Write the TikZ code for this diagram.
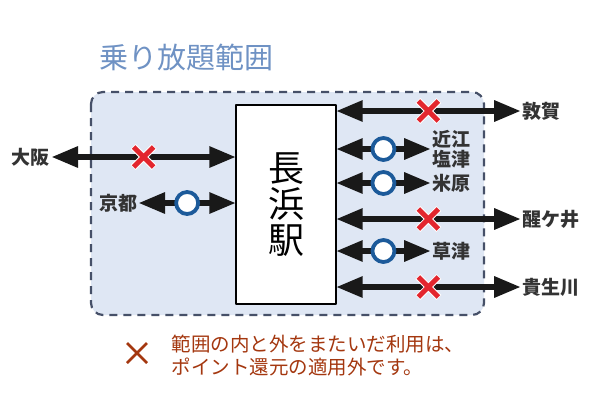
\documentclass[tikz,border=0pt]{standalone}
\usepackage{fontspec}
\setmainfont{Noto Sans CJK JP}
\usepackage{tikz}
\usetikzlibrary{arrows}
\usetikzlibrary{positioning}
\definecolor{hanibg}{RGB}{223,231,244}
\definecolor{haniline}{RGB}{70,80,104}
\definecolor{titleblue}{RGB}{111,146,196}
\definecolor{marublue}{RGB}{28,90,154}
\definecolor{batsured}{RGB}{227,38,46}
\definecolor{notebrown}{RGB}{164,55,15}
\tikzset{
  eki/.style={font=\fontsize{19}{21}\selectfont\bfseries, text=black!80, inner sep=2pt, align=center},
  route/.style={<->, line width=5.2pt, color=black!90},
  maru/.style={circle, draw=marublue, fill=white, line width=3.8pt, minimum size=22pt, inner sep=0pt},
}
% cross mark at a named coordinate
\newcommand{\batsu}[3][batsured]{%
  \draw[white, line width=#3+2pt] ([shift={(-10.5pt,-10.5pt)}]#2) -- ([shift={(10.5pt,10.5pt)}]#2)
    ([shift={(-10.5pt,10.5pt)}]#2) -- ([shift={(10.5pt,-10.5pt)}]#2);
  \draw[#1, line width=#3] ([shift={(-10pt,-10pt)}]#2) -- ([shift={(10pt,10pt)}]#2)
    ([shift={(-10pt,10pt)}]#2) -- ([shift={(10pt,-10pt)}]#2);}

\begin{document}
\begin{tikzpicture}[line cap=butt,line join=round,>=triangle 45,x=1pt,y=-1pt]
            \useasboundingbox (0,0) rectangle (600,400);
            \fill[white] (0,0) rectangle (600,400);
            % area where the ticket is valid
            \draw [line width=2.2pt,color=haniline,fill=hanibg,dash pattern=on 8pt off 6pt,rounded corners=12pt] (91,92) rectangle (484,315);
            \node[text=titleblue, font=\fontsize{29}{31}\selectfont] (title) at (186,57) {乗り放題範囲};

            \node[draw, line width=1.8pt, fill=white, minimum width=100pt, minimum height=199pt,
              font=\fontsize{36}{36}\selectfont, align=center] (nagahama) at (286,204.5) {長\\浜\\駅};

            % stations
            \node[eki] (osaka) at (31,157) {大阪};
            \node[eki] (kyoto) at (118,203) {京都};
            \node[eki, anchor=west] (tsuruga) at (520,111) {敦賀};
            \node[eki, anchor=west, font=\fontsize{19}{20}\selectfont\bfseries] (shiozu) at (430,149) {近江\\塩津};
            \node[eki, anchor=west] (maibara) at (430,183) {米原};
            \node[eki, anchor=west] (samegai) at (520,219) {醒ケ井};
            \node[eki, anchor=west] (kusatsu) at (430,251) {草津};
            \node[eki, anchor=west] (kibukawa) at (520,287) {貴生川};

            % connections
            \draw [route] (osaka.east) -- (osaka.east -| nagahama.west) coordinate[midway] (b1);
            \draw [route] (kyoto.east) -- (kyoto.east -| nagahama.west) node[maru, midway] {};
            \draw [route] (nagahama.east |- tsuruga.west) -- (tsuruga.west) coordinate[midway] (b2);
            \draw [route] (nagahama.east |- shiozu.west) -- (shiozu.west) node[maru, midway] {};
            \draw [route] (nagahama.east |- maibara.west) -- (maibara.west) node[maru, midway] {};
            \draw [route] (nagahama.east |- samegai.west) -- (samegai.west) coordinate[midway] (b3);
            \draw [route] (nagahama.east |- kusatsu.west) -- (kusatsu.west) node[maru, midway] {};
            \draw [route] (nagahama.east |- kibukawa.west) -- (kibukawa.west) coordinate[midway] (b4);
            \foreach \b in {b1,b2,b3,b4}
              \batsu{\b}{5pt};

            % note
            \coordinate (notemark) at (137,353);
            \batsu[notebrown]{notemark}{2.8pt}
            \node[anchor=west, text=notebrown, font=\fontsize{19.5}{23}\selectfont, align=left] (note) at (168,356) {範囲の内と外をまたいだ利用は、\\ポイント還元の適用外です。};
\end{tikzpicture}
\end{document}
